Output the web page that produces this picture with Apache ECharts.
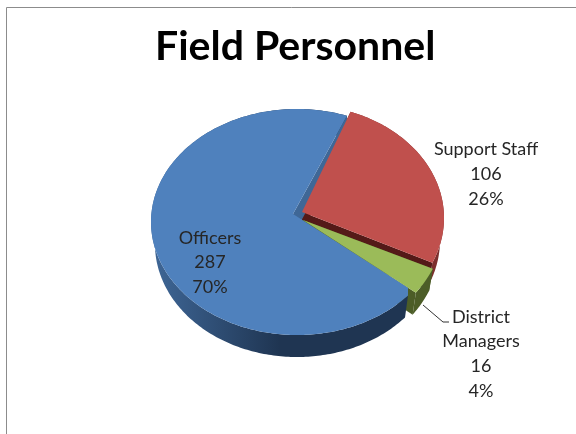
<!DOCTYPE html>
<html>
<head>
    <meta charset="utf-8">
    <script src="https://cdn.jsdelivr.net/npm/echarts@6/dist/echarts.min.js"></script>
</head>
<body style="margin: 0; background: #fff">
<div id="container" style="width: 576px; height: 434px"></div>
<script type="text/javascript">
    var names = ['Officers', 'Support Staff', 'District Managers'];
    var values = [287, 106, 16];
    var percents = ['70%', '26%', '4%'];

    // the 3d look: an ellipse for the top face and a wall below it
    var cx = 297, cy = 222, ry = 113, depth = 22, lean = 0.027;
    var firstAngle = 127.4;
    var blueTrim = 3.1; // degrees of the rim that the green wall hides
    var total = values.reduce(function (a, b) { return a + b; }, 0);
    var topColors = ['#4f81bd', '#c0504d', '#9bbb59'];
    var cutColors = ['#3f6796', '#541a18', '#4c5d27'];
    var wallColors = [
        {type: 'linear', x: 0, y: 0, x2: 1, y2: 0, colorStops: [
            {offset: 0, color: '#3f6797'}, {offset: 0.5, color: '#1f3552'}, {offset: 1, color: '#1f3552'}]},
        '#7d2f2d',
        '#4c5d27'
    ];
    // slice pulled out of the pie, its width and where its apex sits
    var shift = [[0, 0], [5, -4], [10, 2]];
    var rxs = [146, 142, 137];
    var apex = [[293, 214], [302, 212], [303, 220]];
    var labelPos = [[210, 262.5], [486, 174], [481, 354]];
    // draw order of the walls
    var wallZ = [3, 1, 2];

    function rim(i, a) {
        var r = a * Math.PI / 180;
        return [cx + shift[i][0] + rxs[i] * Math.sin(r), cy + shift[i][1] - ry * Math.cos(r)];
    }

    function down(p) {
        return [p[0] + (cx - p[0]) * lean, p[1] + depth];
    }

    function renderSlice(params, api) {
        var i = params.dataIndex;
        var start = firstAngle;
        for (var k = 0; k < i; k++) {
            start += values[k] / total * 360;
        }
        var end = start + api.value(0) / total * 360;
        var edge = [];
        for (var a = i == 0 ? start + blueTrim : start; a < end; a += 1) {
            edge.push(rim(i, a));
        }
        edge.push(rim(i, end));

        var first = edge[0], last = edge[edge.length - 1], tip = apex[i];
        var children = [];
        var face = [tip].concat(edge);
        // outer wall
        children.push({
            type: 'polygon',
            z2: wallZ[i],
            shape: {points: edge.concat(edge.map(down).reverse())},
            style: {fill: wallColors[i]}
        });
        // the two cut faces; the blue one at the green slice is hidden
        if (i > 0) {
            children.push({
                type: 'polygon',
                z2: wallZ[i],
                shape: {points: [tip, first, down(first), down(tip)]},
                style: {fill: cutColors[i]}
            });
        } else {
            // blue face runs up to the green slice's edge at the rim's x
            var g0 = apex[2], g1 = rim(2, firstAngle);
            var joinY = g0[1] + (g1[1] - g0[1]) * (first[0] - g0[0]) / (g1[0] - g0[0]);
            face = [tip, [first[0], joinY]].concat(edge);
        }
        children.push({
            type: 'polygon',
            z2: wallZ[i],
            shape: {points: [tip, last, down(last), down(tip)]},
            style: {fill: cutColors[i]}
        });
        // top face
        children.push({
            type: 'polygon',
            z2: 10 + i,
            shape: {points: face},
            style: {fill: topColors[i]}
        });
        // label
        children.push({
            type: 'text',
            z2: 20,
            style: {
                x: labelPos[i][0],
                y: labelPos[i][1],
                text: names[i].replace(i == 2 ? ' ' : '\n', '\n') + '\n' + api.value(0) + '\n' + percents[i],
                fill: '#262626',
                font: '18px Lato',
                lineHeight: 24.7,
                align: 'center',
                verticalAlign: 'middle'
            }
        });
        return {type: 'group', children: children};
    }

    var myChart = echarts.init(document.getElementById('container'));
    var option = {
        animation: false,
        backgroundColor: '#fff',
        title: {
            text: 'Field Personnel',
            left: 155,
            top: 26,
            padding: 0,
            textStyle: {fontFamily: 'Lato', fontWeight: 'bold', fontSize: 41, color: '#000'}
        },
        graphic: [
            {type: 'rect', silent: true, shape: {x: 6.5, y: 7.5, width: 640, height: 500},
                style: {fill: 'none', stroke: '#8c8c8c', lineWidth: 1}},
            {type: 'polyline', silent: true, shape: {points: [[423, 305], [443, 322], [449, 322]]},
                style: {fill: 'none', stroke: '#333', lineWidth: 1}}
        ],
        series: [{
            type: 'custom',
            coordinateSystem: 'none',
            renderItem: renderSlice,
            data: values.map(function (v) { return [v]; })
        }]
    };
    myChart.setOption(option);
</script>
</body>
</html>
